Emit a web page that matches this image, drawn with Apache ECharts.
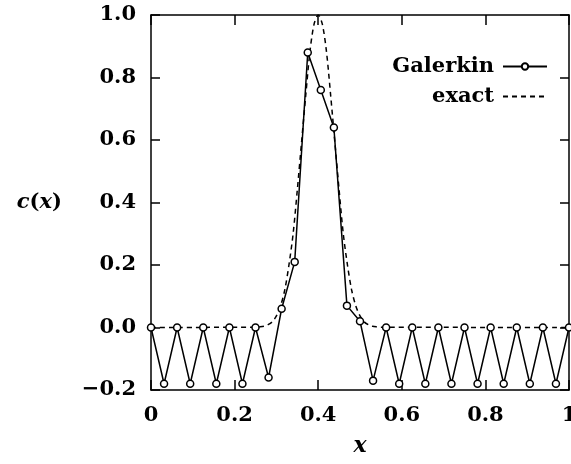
<!DOCTYPE html>
<html>
<head>
<meta charset="utf-8">
<script src="https://cdn.jsdelivr.net/npm/echarts@6/dist/echarts.min.js"></script>
<style>html,body{margin:0;padding:0;background:#fff}#c{width:571px;height:464px}</style>
</head>
<body>
<div id="c"></div>
<script>
// Galerkin nodal solution (x = i/32)
const galerkinX = [0, 0.03125, 0.0625, 0.09375, 0.125, 0.15625, 0.1875, 0.21875, 0.25, 0.28125,
  0.3125, 0.34375, 0.375, 0.40625, 0.4375, 0.46875, 0.5, 0.53125, 0.5625, 0.59375,
  0.625, 0.65625, 0.6875, 0.71875, 0.75, 0.78125, 0.8125, 0.84375, 0.875, 0.90625,
  0.9375, 0.96875, 1];
const galerkinY = [0, -0.18, 0, -0.18, 0, -0.18, 0, -0.18, 0, -0.16,
  0.06, 0.21, 0.88, 0.76, 0.64, 0.07, 0.02, -0.17, 0, -0.18,
  0, -0.18, 0, -0.18, 0, -0.18, 0, -0.18, 0, -0.18,
  0, -0.18, 0];
// exact solution
const exactX = [0, 0.25, 0.26, 0.27, 0.28, 0.29, 0.30, 0.31, 0.32, 0.33, 0.34, 0.35, 0.36, 0.37, 0.38, 0.39,
  0.40, 0.41, 0.42, 0.43, 0.44, 0.45, 0.46, 0.47, 0.48, 0.49, 0.50, 0.51, 0.52, 0.53, 0.54, 0.55, 1];
const exactY = [0, 0.001, 0.002, 0.004, 0.009, 0.018, 0.037, 0.069, 0.12, 0.20, 0.30, 0.44, 0.59, 0.74, 0.88, 0.97,
  1.0, 0.97, 0.88, 0.74, 0.59, 0.44, 0.30, 0.20, 0.12, 0.069, 0.037, 0.018, 0.009, 0.004, 0.002, 0.001, 0];
const xTicks = ['0', '0.2', '0.4', '0.6', '0.8', '1'];
const yTicks = ['\u22120.2', '0.0', '0.2', '0.4', '0.6', '0.8', '1.0'];
const seriesNames = ['Galerkin', 'exact'];

const FONT = 'DejaVu Serif';
const chart = echarts.init(document.getElementById('c'), null, {renderer: 'canvas'});
const lbl = {fontFamily: FONT, fontWeight: 'bold', fontSize: 21, color: '#000'};
const axLine = {show: true, onZero: false, lineStyle: {color: '#000', width: 1.5}};
const tick = (len) => ({show: true, inside: true, length: len, lineStyle: {color: '#000', width: 1.5}});

chart.setOption({
  animation: false,
  backgroundColor: '#fff',
  grid: {left: 151, right: 2, top: 15, bottom: 74, containLabel: false, outerBoundsMode: 'none'},
  legend: {
    orient: 'vertical', right: 18, top: 51, align: 'right', itemWidth: 44, itemHeight: 8, itemGap: 9,
    textStyle: {fontFamily: FONT, fontWeight: 'bold', fontSize: 21, color: '#000', padding: [0, 4, 0, 0]},
    data: [{name: seriesNames[0]}, {name: seriesNames[1], itemStyle: {opacity: 0}}]
  },
  xAxis: [{
    type: 'value', min: 0, max: 1, interval: 0.2, position: 'bottom',
    axisLine: axLine, axisTick: tick(10), splitLine: {show: false},
    axisLabel: Object.assign({}, lbl, {margin: 15, formatter: (v) => xTicks[Math.round(v / 0.2)]}),
    name: 'x', nameLocation: 'middle', nameGap: 45,
    nameTextStyle: {fontFamily: FONT, fontStyle: 'italic', fontWeight: 'bold', fontSize: 22, color: '#000'}
  }, {
    type: 'value', min: 0, max: 1, interval: 0.2, position: 'top',
    axisLine: axLine, axisTick: tick(10), splitLine: {show: false}, axisLabel: {show: false}
  }],
  yAxis: [{
    type: 'value', min: -0.2, max: 1.0, interval: 0.2, position: 'left',
    axisLine: axLine, axisTick: tick(9), splitLine: {show: false},
    axisLabel: Object.assign({}, lbl, {margin: 15, formatter: (v) => yTicks[Math.round((v + 0.2) / 0.2)]}),
    name: '{i|c}{n|(}{i|x}{n|)}', nameLocation: 'middle', nameGap: 89, nameRotate: 0,
    nameTextStyle: {rich: {
      i: {fontFamily: FONT, fontStyle: 'italic', fontWeight: 'bold', fontSize: 21, color: '#000'},
      n: {fontFamily: FONT, fontWeight: 'bold', fontSize: 21, color: '#000'}
    }}
  }, {
    type: 'value', min: -0.2, max: 1.0, interval: 0.2, position: 'right',
    axisLine: axLine, axisTick: tick(9), splitLine: {show: false}, axisLabel: {show: false}
  }],
  series: [{
    name: seriesNames[1], type: 'line', xAxisIndex: 0, yAxisIndex: 0, smooth: 0.3,
    data: exactX.map((x, i) => [x, exactY[i]]),
    showSymbol: false, symbol: 'none',
    lineStyle: {color: '#000', width: 1.5, type: [5, 4]},
    itemStyle: {color: '#000'}, z: 2
  }, {
    name: seriesNames[0], type: 'line', xAxisIndex: 0, yAxisIndex: 0,
    data: galerkinX.map((x, i) => [x, galerkinY[i]]),
    symbol: 'circle', symbolSize: 7, showAllSymbol: true,
    lineStyle: {color: '#000', width: 1.5},
    itemStyle: {color: '#fff', borderColor: '#000', borderWidth: 1.5}, z: 3
  }]
});
</script>
</body>
</html>
